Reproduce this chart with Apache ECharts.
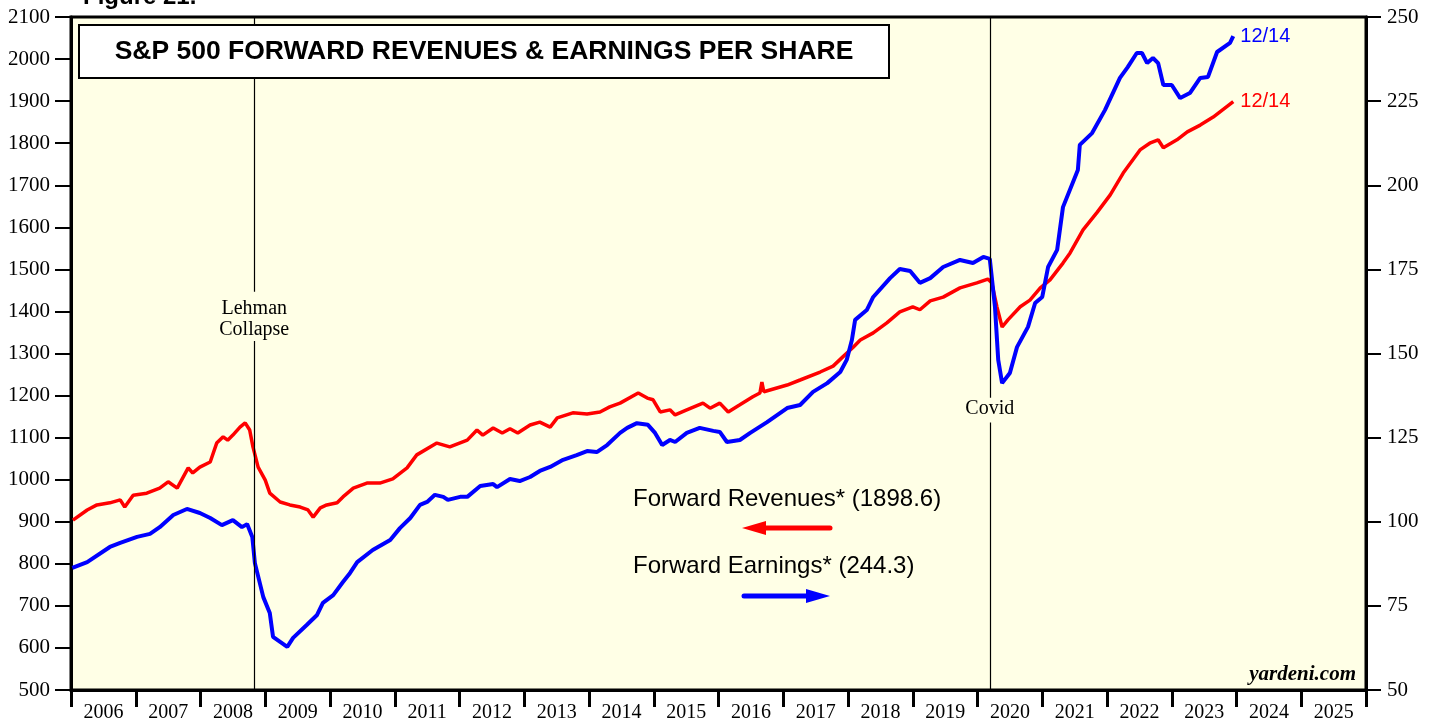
<!DOCTYPE html>
<html>
<head>
<meta charset="utf-8">
<title>S&amp;P 500 Forward Revenues &amp; Earnings Per Share</title>
<script src="https://cdn.jsdelivr.net/npm/echarts@6.0.0/dist/echarts.min.js"></script>
<style>
  html, body { margin: 0; padding: 0; background: #fff; }
  #myChart { width: 1437px; height: 719px; }
</style>
</head>
<body>
<div id="myChart"></div>
<script>
// year labels on the bottom axis
var years = ['2006', '2007', '2008', '2009', '2010', '2011', '2012', '2013', '2014', '2015',
  '2016', '2017', '2018', '2019', '2020', '2021', '2022', '2023', '2024', '2025'];

// forward revenues per share (left axis), dates as decimal years
var revDates = [2006.03, 2006.25, 2006.40, 2006.60, 2006.76, 2006.83, 2006.96, 2007.17, 2007.37, 2007.50,
  2007.64, 2007.81, 2007.88, 2007.99, 2008.15, 2008.25, 2008.35, 2008.42, 2008.50, 2008.61,
  2008.69, 2008.76, 2008.81, 2008.89, 2009.00, 2009.07, 2009.23, 2009.38, 2009.54, 2009.66,
  2009.74, 2009.85, 2009.95, 2010.11, 2010.20, 2010.36, 2010.57, 2010.77, 2010.97, 2011.19,
  2011.34, 2011.65, 2011.85, 2012.12, 2012.27, 2012.36, 2012.52, 2012.66, 2012.78, 2012.90,
  2013.09, 2013.24, 2013.40, 2013.51, 2013.75, 2013.97, 2014.17, 2014.32, 2014.48, 2014.76,
  2014.90, 2014.99, 2015.10, 2015.25, 2015.33, 2015.51, 2015.76, 2015.87, 2016.02, 2016.15,
  2016.33, 2016.53, 2016.64, 2016.67, 2016.70, 2017.06, 2017.26, 2017.57, 2017.77, 2017.92,
  2018.08, 2018.19, 2018.39, 2018.60, 2018.80, 2019.00, 2019.11, 2019.27, 2019.47, 2019.73,
  2019.99, 2020.16, 2020.22, 2020.30, 2020.38, 2020.47, 2020.66, 2020.81, 2020.97, 2021.12,
  2021.32, 2021.43, 2021.63, 2021.85, 2022.05, 2022.25, 2022.51, 2022.66, 2022.79, 2022.87,
  2023.08, 2023.24, 2023.44, 2023.64, 2023.95];
var revValues = [904, 928, 940, 945, 952, 935, 963, 968, 980, 995,
  980, 1028, 1016, 1030, 1042, 1087, 1102, 1094, 1106, 1125,
  1135, 1118, 1078, 1030, 999, 968, 947, 940, 935, 928,
  911, 933, 940, 945, 959, 980, 992, 992, 1002, 1028,
  1059, 1087, 1078, 1094, 1118, 1106, 1123, 1111, 1121, 1111,
  1130, 1137, 1125, 1147, 1159, 1156, 1161, 1173, 1182, 1206,
  1194, 1190, 1161, 1166, 1154, 1166, 1182, 1170, 1182, 1161,
  1178, 1197, 1206, 1232, 1209, 1225, 1237, 1256, 1270, 1292,
  1315, 1332, 1349, 1373, 1399, 1411, 1404, 1425, 1434, 1456,
  1468, 1477, 1468, 1411, 1363, 1380, 1411, 1427, 1456, 1475,
  1515, 1539, 1594, 1636, 1677, 1729, 1784, 1800, 1808, 1789,
  1808, 1827, 1843, 1862, 1898.6];

// forward earnings per share (right axis)
var epsDates = [2006.02, 2006.25, 2006.60, 2006.76, 2007.02, 2007.22, 2007.37, 2007.58, 2007.79, 2007.99,
  2008.15, 2008.33, 2008.50, 2008.64, 2008.72, 2008.80, 2008.84, 2008.97, 2009.07, 2009.12,
  2009.23, 2009.34, 2009.43, 2009.64, 2009.80, 2009.89, 2010.05, 2010.20, 2010.31, 2010.42,
  2010.66, 2010.93, 2011.08, 2011.24, 2011.39, 2011.50, 2011.62, 2011.75, 2011.82, 2012.01,
  2012.12, 2012.32, 2012.52, 2012.58, 2012.78, 2012.93, 2013.09, 2013.24, 2013.40, 2013.60,
  2013.81, 2013.97, 2014.12, 2014.28, 2014.48, 2014.59, 2014.74, 2014.91, 2015.02, 2015.13,
  2015.25, 2015.33, 2015.51, 2015.71, 2015.92, 2016.02, 2016.13, 2016.33, 2016.49, 2016.75,
  2017.06, 2017.26, 2017.46, 2017.68, 2017.88, 2017.98, 2018.06, 2018.11, 2018.29, 2018.39,
  2018.65, 2018.80, 2018.96, 2019.11, 2019.27, 2019.47, 2019.73, 2019.93, 2020.09, 2020.19,
  2020.27, 2020.32, 2020.38, 2020.50, 2020.61, 2020.78, 2020.89, 2021.00, 2021.09, 2021.23,
  2021.32, 2021.55, 2021.58, 2021.77, 2021.97, 2022.20, 2022.32, 2022.46, 2022.54, 2022.62,
  2022.71, 2022.79, 2022.87, 2023.00, 2023.13, 2023.28, 2023.44, 2023.56, 2023.70, 2023.90,
  2023.95];
var epsValues = [86.3, 88.0, 92.5, 93.7, 95.5, 96.4, 98.4, 102.0, 103.8, 102.6,
  101.1, 99.0, 100.5, 98.4, 99.3, 95.5, 87.7, 77.6, 72.9, 65.8,
  64.3, 62.8, 65.5, 69.3, 72.3, 75.9, 78.2, 82.1, 84.8, 88.0,
  91.6, 94.6, 98.1, 101.1, 105.0, 105.9, 108.0, 107.4, 106.5, 107.4,
  107.4, 110.6, 111.2, 110.3, 112.7, 112.1, 113.3, 115.1, 116.3, 118.4,
  119.8, 121.0, 120.7, 122.8, 126.4, 127.9, 129.3, 128.8, 126.4, 122.8,
  124.3, 123.7, 126.4, 127.9, 127.0, 126.7, 123.7, 124.3, 126.4, 129.6,
  133.8, 134.7, 138.6, 141.2, 144.5, 148.1, 154.0, 160.0, 162.9, 166.8,
  172.4, 175.1, 174.5, 171.0, 172.4, 175.7, 177.8, 176.9, 178.7, 178.1,
  163.8, 148.1, 141.2, 144.2, 151.9, 157.9, 165.0, 166.8, 175.7, 180.8,
  193.5, 204.5, 212.0, 215.5, 222.4, 231.9, 235.1, 239.3, 239.3, 236.3,
  237.8, 236.3, 229.8, 229.8, 225.9, 227.4, 231.9, 232.2, 239.6, 242.3,
  244.3];

// axis ranges
var leftAxis = { min: 500, max: 2100, step: 100 };
var rightAxis = { min: 50, max: 250, step: 25 };

// event markers
var events = [
  { name: 'Lehman\nCollapse', date: 2008.83 },
  { name: 'Covid', date: 2020.19 }
];

var serif = 'Liberation Serif, Times New Roman, serif';
var sans = 'Liberation Sans, Arial, Helvetica, sans-serif';

function pairs(xs, ys) {
  return xs.map(function (x, i) { return [x, ys[i]]; });
}

var chart = echarts.init(document.getElementById('myChart'));

chart.setOption({
  animation: false,
  backgroundColor: '#ffffff',
  grid: {
    left: 71, right: 71, top: 17, bottom: 29,
    outerBoundsMode: 'none',
    show: true,
    backgroundColor: '#ffffe6',
    borderColor: '#000',
    borderWidth: 3
  },
  xAxis: [
    {
      type: 'value',
      min: 2006,
      max: 2026,
      show: false
    },
    {
      type: 'category',
      data: years,
      position: 'bottom',
      boundaryGap: true,
      axisLine: { show: true, lineStyle: { color: '#000', width: 3 } },
      axisTick: { show: true, length: 17, interval: 0, lineStyle: { color: '#000', width: 3 } },
      axisLabel: { interval: 0, margin: 13, color: '#000', fontFamily: serif, fontSize: 20 },
      splitLine: { show: false }
    }
  ],
  yAxis: [
    {
      type: 'value',
      position: 'left',
      min: leftAxis.min,
      max: leftAxis.max,
      interval: leftAxis.step,
      axisLine: { show: true, lineStyle: { color: '#000', width: 3 } },
      axisTick: { show: true, length: 16, lineStyle: { color: '#000', width: 2 } },
      axisLabel: {
        margin: 21, color: '#000', fontFamily: serif, fontSize: 21,
        formatter: function (v) { return String(v); }
      },
      splitLine: { show: false }
    },
    {
      type: 'value',
      position: 'right',
      min: rightAxis.min,
      max: rightAxis.max,
      interval: rightAxis.step,
      axisLine: { show: true, lineStyle: { color: '#000', width: 3 } },
      axisTick: { show: true, length: 15, lineStyle: { color: '#000', width: 2 } },
      axisLabel: {
        margin: 21, color: '#000', fontFamily: serif, fontSize: 21,
        formatter: function (v) { return String(v); }
      },
      splitLine: { show: false }
    }
  ],
  series: [
    {
      name: 'Forward Revenues',
      type: 'line',
      xAxisIndex: 0,
      yAxisIndex: 0,
      data: pairs(revDates, revValues),
      showSymbol: false,
      lineStyle: { color: '#ff0000', width: 3.5 },
      itemStyle: { color: '#ff0000' },
      z: 3,
      endLabel: {
        show: true, formatter: '12/14', distance: 7,
        color: '#ff0000', fontFamily: sans, fontSize: 20
      },
      markLine: {
        silent: true,
        symbol: 'none',
        label: { show: false },
        lineStyle: { color: '#000', width: 1.2, type: 'solid' },
        emphasis: { disabled: true },
        data: [
          [{ coord: [events[0].date, 2100] }, { coord: [events[0].date, 1447] }],
          [{ coord: [events[0].date, 1330] }, { coord: [events[0].date, 500] }],
          [{ coord: [events[1].date, 2100] }, { coord: [events[1].date, 1195] }],
          [{ coord: [events[1].date, 1136] }, { coord: [events[1].date, 500] }]
        ]
      }
    },
    {
      name: 'Forward Earnings',
      type: 'line',
      xAxisIndex: 0,
      yAxisIndex: 1,
      data: pairs(epsDates, epsValues),
      showSymbol: false,
      lineStyle: { color: '#0000ff', width: 4 },
      itemStyle: { color: '#0000ff' },
      z: 4,
      endLabel: {
        show: true, formatter: '12/14', distance: 7,
        color: '#0000ff', fontFamily: sans, fontSize: 20
      }
    }
  ]
});

// annotations: title box, legend arrows, event labels, source
var lehmanX = chart.convertToPixel({ xAxisIndex: 0 }, events[0].date);
var covidX = chart.convertToPixel({ xAxisIndex: 0 }, events[1].date);

chart.setOption({
  graphic: [
    {
      type: 'text', z: 100,
      style: { text: 'Figure 21.', x: 83, y: 9, align: 'left', verticalAlign: 'bottom',
        font: 'bold 24px ' + sans, fill: '#000' }
    },
    {
      type: 'rect', z: 100,
      shape: { x: 79, y: 25, width: 810, height: 53 },
      style: { fill: '#fff', stroke: '#000', lineWidth: 2 }
    },
    {
      type: 'text', z: 101,
      style: { text: 'S&P 500 FORWARD REVENUES & EARNINGS PER SHARE', x: 484, y: 52,
        align: 'center', verticalAlign: 'middle', font: 'bold 26.5px ' + sans, fill: '#000' }
    },
    {
      type: 'text', z: 100,
      style: { text: events[0].name, x: lehmanX, y: 319, align: 'center', verticalAlign: 'middle',
        font: '20px ' + serif, fill: '#000', lineHeight: 21 }
    },
    {
      type: 'text', z: 100,
      style: { text: events[1].name, x: covidX, y: 409, align: 'center', verticalAlign: 'middle',
        font: '20px ' + serif, fill: '#000' }
    },
    {
      type: 'text', z: 100,
      style: { text: 'Forward Revenues* (1898.6)', x: 633, y: 499, align: 'left', verticalAlign: 'middle',
        font: '24px ' + sans, fill: '#000' }
    },
    {
      type: 'line', z: 100,
      shape: { x1: 762, y1: 528, x2: 830, y2: 528 },
      style: { stroke: '#ff0000', lineWidth: 5, lineCap: 'round' }
    },
    {
      type: 'polygon', z: 100,
      shape: { points: [[742, 528], [766, 521], [766, 535]] },
      style: { fill: '#ff0000' }
    },
    {
      type: 'text', z: 100,
      style: { text: 'Forward Earnings* (244.3)', x: 633, y: 566, align: 'left', verticalAlign: 'middle',
        font: '24px ' + sans, fill: '#000' }
    },
    {
      type: 'line', z: 100,
      shape: { x1: 744, y1: 596, x2: 810, y2: 596 },
      style: { stroke: '#0000ff', lineWidth: 5, lineCap: 'round' }
    },
    {
      type: 'polygon', z: 100,
      shape: { points: [[830, 596], [806, 589], [806, 603]] },
      style: { fill: '#0000ff' }
    },
    {
      type: 'text', z: 100,
      style: { text: 'yardeni.com', x: 1356, y: 675, align: 'right', verticalAlign: 'middle',
        font: 'italic bold 21px ' + serif, fill: '#000' }
    }
  ]
});
</script>
</body>
</html>
